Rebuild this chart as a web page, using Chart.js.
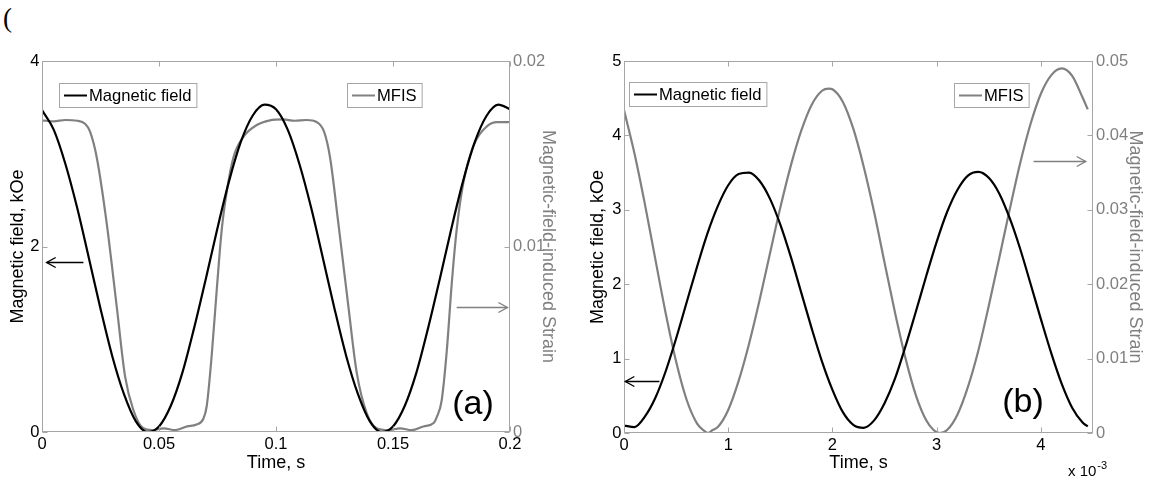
<!DOCTYPE html>
<html>
<head>
<meta charset="utf-8">
<script src="https://cdn.jsdelivr.net/npm/chart.js@4"></script>
<style>
  body { margin: 0; background: #fff; }
  #wrap { position: relative; width: 1154px; height: 481px; overflow: hidden; }
  .panel { position: absolute; top: 0; width: 577px; height: 481px; }
  #brace { position: absolute; left: 3px; top: 3px; font: 27px 'Liberation Serif', serif; color: #000; }
</style>
</head>
<body>
<div id="wrap">
  <div id="brace">(</div>
  <canvas id="chartA" class="panel" width="577" height="481" style="left:0"></canvas>
  <canvas id="chartB" class="panel" width="577" height="481" style="left:577px"></canvas>
</div>
<script>
// ---- panel (a): time in s ----
const timeA = [0, 0.005, 0.01, 0.015, 0.02, 0.025, 0.03, 0.035, 0.04, 0.045, 0.05, 0.055, 0.06, 0.065, 0.07,
  0.075, 0.08, 0.085, 0.09, 0.095, 0.1, 0.105, 0.11, 0.115, 0.12, 0.125, 0.13, 0.135, 0.14, 0.145, 0.15,
  0.155, 0.16, 0.165, 0.17, 0.175, 0.18, 0.185, 0.19, 0.195, 0.2];
const fieldA = [3.47, 3.26, 2.89, 2.42, 1.88, 1.33, 0.82, 0.41, 0.12, 0.0, 0.06, 0.28, 0.64, 1.12, 1.65,
  2.2, 2.71, 3.13, 3.41, 3.53, 3.48, 3.26, 2.89, 2.42, 1.88, 1.33, 0.82, 0.41, 0.12, 0.0, 0.06,
  0.28, 0.64, 1.12, 1.65, 2.2, 2.71, 3.13, 3.41, 3.53, 3.48];
const mfisTimeA = [0, 0.005, 0.01, 0.015, 0.0185, 0.0205, 0.0234, 0.0276, 0.0319, 0.0355, 0.039, 0.0433,
  0.047, 0.052, 0.057, 0.062, 0.066, 0.0689, 0.0704, 0.0725, 0.0747, 0.0768, 0.079, 0.0818, 0.086, 0.0918,
  0.0974, 0.103, 0.108, 0.113, 0.1175, 0.1205, 0.1231, 0.1266, 0.1309, 0.1345, 0.1388, 0.143, 0.148, 0.153,
  0.158, 0.163, 0.1675, 0.1687, 0.1708, 0.173, 0.1751, 0.1772, 0.18, 0.1843, 0.19, 0.1945, 0.1986, 0.2];
const mfisA = [0.0168, 0.01675, 0.01682, 0.01678, 0.0166, 0.0162, 0.0148, 0.0113, 0.0068, 0.003, 0.0012, 0.0002,
  0.0001, 0.0002, 0.0001, 0.0003, 0.0004, 0.0007, 0.0014, 0.0041, 0.0077, 0.0109, 0.013, 0.0148, 0.0159, 0.01655,
  0.0168, 0.01685, 0.01678, 0.01682, 0.0167, 0.0162, 0.0148, 0.0113, 0.0068, 0.0032, 0.001, 0.0002, 0.0001, 0.0002,
  0.0001, 0.0003, 0.0005, 0.0008, 0.0017, 0.0044, 0.008, 0.0109, 0.0134, 0.0154, 0.01646, 0.0167, 0.0167, 0.01672];
const xTicksA = [0, 0.05, 0.1, 0.15, 0.2];
const fieldTicksA = [0, 2, 4];
const strainTicksA = [0, 0.01, 0.02];

// ---- panel (b): time in ms (axis shows x 10^-3 s) ----
const timeB = [0, 0.1, 0.2, 0.3, 0.4, 0.5, 0.6, 0.7, 0.8, 0.9, 1.0, 1.1, 1.2, 1.3, 1.4, 1.5, 1.6, 1.7, 1.8, 1.9,
  2.0, 2.1, 2.2, 2.3, 2.4, 2.5, 2.6, 2.7, 2.8, 2.9, 3.0, 3.1, 3.2, 3.3, 3.4, 3.5, 3.6, 3.7, 3.8, 3.9,
  4.0, 4.1, 4.2, 4.3, 4.4, 4.45];
const fieldB = [0.1, 0.08, 0.22, 0.47, 0.83, 1.27, 1.75, 2.23, 2.68, 3.05, 3.33, 3.48, 3.5, 3.39, 3.15, 2.8,
  2.37, 1.89, 1.41, 0.96, 0.58, 0.28, 0.11, 0.07, 0.17, 0.4, 0.73, 1.16, 1.63, 2.11, 2.57, 2.97, 3.27,
  3.46, 3.51, 3.43, 3.22, 2.89, 2.48, 2.01, 1.53, 1.07, 0.66, 0.34, 0.14, 0.09];
const mfisTimeB = [0, 0.1, 0.2, 0.3, 0.4, 0.5, 0.6, 0.7, 0.76, 0.806, 0.85, 0.9, 1.0, 1.1, 1.2, 1.3, 1.4, 1.5,
  1.6, 1.7, 1.8, 1.9, 1.964, 2.0, 2.1, 2.2, 2.3, 2.4, 2.5, 2.6, 2.7, 2.8, 2.9, 2.97, 3.03, 3.1, 3.2, 3.3,
  3.4, 3.5, 3.6, 3.7, 3.8, 3.9, 4.0, 4.1, 4.2, 4.3, 4.4, 4.45];
const mfisB = [0.0434, 0.0376, 0.0308, 0.0234, 0.0161, 0.0096, 0.0045, 0.0013, 0.0004, 0.0, 0.0004, 0.0008,
  0.0031, 0.007, 0.012, 0.0178, 0.0241, 0.0303, 0.0359, 0.0406, 0.0441, 0.046, 0.0463, 0.0462, 0.0445,
  0.0409, 0.0358, 0.0297, 0.0229, 0.0162, 0.0101, 0.0051, 0.0017, 0.0004, 0.0, 0.0004, 0.0025, 0.0062,
  0.0111, 0.0171, 0.0235, 0.03, 0.0362, 0.0415, 0.0456, 0.0481, 0.049, 0.048, 0.0451, 0.0435];
const xTicksB = [0, 1, 2, 3, 4];
const fieldTicksB = [0, 1, 2, 3, 4, 5];
const strainTicksB = [0, 0.01, 0.02, 0.03, 0.04, 0.05];

const FIELD_COLOR = '#000000';
const MFIS_COLOR = '#808080';
const BOX_COLOR = '#a6a6a6';
const FONT = "'Liberation Sans', Arial, sans-serif";

Chart.defaults.font.family = FONT;
Chart.defaults.color = '#000';

const pairs = (xs, ys) => xs.map((x, i) => ({ x: x, y: ys[i] }));

// box, inward ticks, legends, arrows and panel letter
const decor = {
  id: 'decor',
  afterDatasetsDraw(chart, args, opts) {
    const { ctx, chartArea: a, scales } = chart;
    const L = Math.round(a.left) + 0.5, R = Math.round(a.right) - 0.5;
    const T = Math.round(a.top) + 0.5, B = Math.round(a.bottom) - 0.5;
    const seg = (x1, y1, x2, y2) => { ctx.beginPath(); ctx.moveTo(x1, y1); ctx.lineTo(x2, y2); ctx.stroke(); };
    ctx.save();
    ctx.strokeStyle = BOX_COLOR;
    ctx.lineWidth = 1;
    ctx.strokeRect(L, T, R - L, B - T);
    const tl = 5;
    scales.x.ticks.forEach(t => {
      const px = Math.round(scales.x.getPixelForValue(t.value)) + 0.5;
      seg(px, B, px, B - tl); seg(px, T, px, T + tl);
    });
    scales.yL.ticks.forEach(t => {
      const py = Math.round(scales.yL.getPixelForValue(t.value)) + 0.5;
      seg(L, py, L + tl, py);
    });
    scales.yR.ticks.forEach(t => {
      const py = Math.round(scales.yR.getPixelForValue(t.value)) + 0.5;
      seg(R, py, R - tl, py);
    });

    // legend boxes
    ctx.font = '16.6px ' + FONT;
    ctx.textBaseline = 'middle';
    opts.legends.forEach(lg => {
      const tw = ctx.measureText(lg.text).width;
      const w = 30 + tw + 5, h = 24;
      ctx.fillStyle = '#fff';
      ctx.fillRect(lg.left, lg.top, w, h);
      ctx.strokeStyle = BOX_COLOR;
      ctx.lineWidth = 1;
      ctx.strokeRect(lg.left + 0.5, lg.top + 0.5, w, h);
      ctx.strokeStyle = lg.color;
      ctx.lineWidth = 2;
      seg(lg.left + 5, lg.top + h / 2 + 0.5, lg.left + 28, lg.top + h / 2 + 0.5);
      ctx.fillStyle = '#000';
      ctx.textAlign = 'left';
      ctx.fillText(lg.text, lg.left + 30, lg.top + h / 2 + 1);
    });

    // arrows in data coordinates
    opts.arrows.forEach(ar => {
      const ys = scales[ar.axis];
      const x1 = scales.x.getPixelForValue(ar.from), x2 = scales.x.getPixelForValue(ar.to);
      const y = Math.round(ys.getPixelForValue(ar.value)) + 0.5;
      const dir = Math.sign(x2 - x1);
      ctx.strokeStyle = ar.color;
      ctx.lineWidth = 1.4;
      seg(x1, y, x2, y);
      ctx.beginPath();
      ctx.moveTo(x2 - dir * 9, y - 5);
      ctx.lineTo(x2, y);
      ctx.lineTo(x2 - dir * 9, y + 5);
      ctx.stroke();
    });

    // panel letter
    ctx.fillStyle = '#000';
    ctx.font = '34px ' + FONT;
    ctx.textAlign = 'center';
    ctx.textBaseline = 'middle';
    ctx.fillText(opts.letter.text, opts.letter.x, opts.letter.y);

    if (opts.exponent) {
      const e = opts.exponent;
      ctx.textAlign = 'left';
      ctx.textBaseline = 'alphabetic';
      ctx.font = '15px ' + FONT;
      ctx.fillText('x 10', e.x, e.y);
      const w = ctx.measureText('x 10').width;
      ctx.font = '11px ' + FONT;
      ctx.fillText('-3', e.x + w + 1, e.y - 7);
    }
    ctx.restore();
  }
};

function makePanel(canvasId, p) {
  return new Chart(document.getElementById(canvasId), {
    type: 'line',
    data: {
      datasets: [
        {
          label: 'Magnetic field',
          data: pairs(p.time, p.field),
          yAxisID: 'yL',
          borderColor: FIELD_COLOR,
          borderWidth: 2.2,
          pointRadius: 0,
          cubicInterpolationMode: 'monotone'
        },
        {
          label: 'MFIS',
          data: pairs(p.mfisTime, p.mfis),
          yAxisID: 'yR',
          borderColor: MFIS_COLOR,
          borderWidth: 2.2,
          pointRadius: 0,
          cubicInterpolationMode: 'monotone'
        }
      ]
    },
    options: {
      responsive: false,
      animation: false,
      devicePixelRatio: 1,
      layout: { padding: { top: 61, left: 0, right: 0, bottom: 0 } },
      plugins: {
        legend: { display: false },
        tooltip: { enabled: false },
        decor: p.decor
      },
      scales: {
        x: {
          type: 'linear',
          min: p.xMin, max: p.xMax,
          grid: { display: false, drawTicks: false },
          border: { display: false },
          afterBuildTicks: s => { s.ticks = p.xTicks.map(v => ({ value: v })); },
          afterFit: s => { s.height = p.bottomH; },
          ticks: { autoSkip: false, maxRotation: 0, padding: 3, color: '#000', font: { size: 16.5 },
            callback: v => String(v) },
          title: { display: true, text: 'Time, s', color: '#000', font: { size: 18 }, padding: { top: 0, bottom: 7 } }
        },
        yL: {
          type: 'linear', position: 'left',
          min: p.fieldMin, max: p.fieldMax,
          grid: { display: false, drawTicks: false },
          border: { display: false },
          afterBuildTicks: s => { s.ticks = p.fieldTicks.map(v => ({ value: v })); },
          afterFit: s => { s.width = p.leftW; },
          ticks: { autoSkip: false, padding: 2.5, color: '#000', font: { size: 16.5 }, callback: v => String(v) },
          title: { display: true, text: 'Magnetic field, kOe', color: '#000', font: { size: 18 },
            padding: { top: p.leftTitlePad, bottom: 0 } }
        },
        yR: {
          type: 'linear', position: 'right',
          min: p.strainMin, max: p.strainMax,
          grid: { display: false, drawTicks: false },
          border: { display: false },
          afterBuildTicks: s => { s.ticks = p.strainTicks.map(v => ({ value: v })); },
          afterFit: s => { s.width = p.rightW; },
          ticks: { autoSkip: false, padding: 3, color: MFIS_COLOR, font: { size: 16.5 }, callback: v => String(v) },
          title: { display: true, text: 'Magnetic-field-induced Strain', color: MFIS_COLOR, font: { size: 18 },
            padding: { top: p.rightTitlePad, bottom: 0 } }
        }
      }
    },
    plugins: [decor]
  });
}

makePanel('chartA', {
  time: timeA, field: fieldA, mfisTime: mfisTimeA, mfis: mfisA,
  xTicks: xTicksA, fieldTicks: fieldTicksA, strainTicks: strainTicksA,
  xMin: 0, xMax: 0.2, fieldMin: 0, fieldMax: 4, strainMin: 0, strainMax: 0.02,
  leftW: 42, rightW: 67, bottomH: 49, leftTitlePad: 7, rightTitlePad: 18,
  decor: {
    legends: [
      { text: 'Magnetic field', color: FIELD_COLOR, left: 59, top: 83 },
      { text: 'MFIS', color: MFIS_COLOR, left: 347, top: 83 }
    ],
    arrows: [
      { axis: 'yL', value: 1.83, from: 0.0177, to: 0.002, color: '#000' },
      { axis: 'yR', value: 0.00675, from: 0.1772, to: 0.1989, color: MFIS_COLOR }
    ],
    letter: { text: '(a)', x: 473, y: 405 }
  }
});

makePanel('chartB', {
  time: timeB, field: fieldB, mfisTime: mfisTimeB, mfis: mfisB,
  xTicks: xTicksB, fieldTicks: fieldTicksB, strainTicks: strainTicksB,
  xMin: 0, xMax: 4.5, fieldMin: 0, fieldMax: 5, strainMin: 0, strainMax: 0.05,
  leftW: 47, rightW: 61, bottomH: 48, leftTitlePad: 10, rightTitlePad: 8,
  decor: {
    legends: [
      { text: 'Magnetic field', color: FIELD_COLOR, left: 52, top: 82 },
      { text: 'MFIS', color: MFIS_COLOR, left: 377, top: 83 }
    ],
    arrows: [
      { axis: 'yL', value: 0.7, from: 0.34, to: 0.013, color: '#000' },
      { axis: 'yR', value: 0.0365, from: 3.93, to: 4.43, color: MFIS_COLOR }
    ],
    letter: { text: '(b)', x: 446, y: 403 },
    exponent: { x: 491, y: 476 }
  }
});
</script>
</body>
</html>
